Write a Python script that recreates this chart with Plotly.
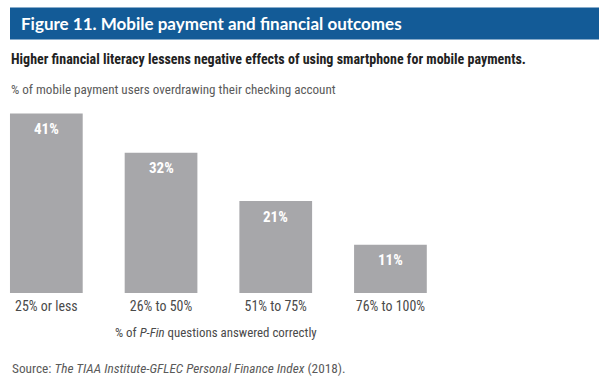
import plotly.graph_objects as go

categories = ["25% or less", "26% to 50%", "51% to 75%", "76% to 100%"]
values = [41, 32, 21, 11]
value_labels = ["41%", "32%", "21%", "11%"]

title_text = "Figure 11. Mobile payment and financial outcomes"
subtitle_text = "Higher financial literacy lessens negative effects of using smartphone for mobile payments."
ylabel_text = "% of mobile payment users overdrawing their checking account"
xlabel_text = "% of <i>P-Fin</i> questions answered correctly"
source_text = "Source: <i>The TIAA Institute-GFLEC Personal Finance Index</i> (2018)."

W, H = 607, 381
ML, MR, MT, MB = 0, 7, 100, 88
PW, PH = W - ML - MR, H - MT - MB

def px(x):
    return (x - ML) / PW

def py(y):
    return (H - MB - y) / PH

COND = "Liberation Sans Narrow, Roboto Condensed, Arial Narrow, Roboto, sans-serif"

fig = go.Figure()
fig.add_trace(go.Bar(
    x=list(range(len(categories))), y=values,
    marker=dict(color="#a7a7aa", line=dict(width=0)),
    width=0.634, hoverinfo="skip",
))

annotations = []
for i, (v, lab) in enumerate(zip(values, value_labels)):
    annotations.append(dict(x=i, y=v, xref="x", yref="y", text="<b>" + lab + "</b>",
                            showarrow=False, yanchor="middle", yshift=-15.5,
                            font=dict(family=COND, size=15, color="white")))

annotations += [
    dict(x=px(19), y=py(24), xref="paper", yref="paper", text="<b>" + title_text + "</b>",
         showarrow=False, xanchor="left", yanchor="middle",
         font=dict(family="Lato, sans-serif", size=17, color="white")),
    dict(x=px(9), y=py(59), xref="paper", yref="paper", text="<b>" + subtitle_text + "</b>",
         showarrow=False, xanchor="left", yanchor="middle",
         font=dict(family=COND, size=14, color="#222222")),
    dict(x=px(9), y=py(89), xref="paper", yref="paper", text=ylabel_text,
         showarrow=False, xanchor="left", yanchor="middle",
         font=dict(family=COND, size=13.1, color="#5a5a5a")),
    dict(x=px(216), y=py(332), xref="paper", yref="paper", text=xlabel_text,
         showarrow=False, xanchor="center", yanchor="middle",
         font=dict(family=COND, size=12.9, color="#4a4a4a")),
    dict(x=px(10), y=py(368), xref="paper", yref="paper", text=source_text,
         showarrow=False, xanchor="left", yanchor="middle",
         font=dict(family=COND, size=13.3, color="#5a5a5a")),
]

fig.update_layout(
    width=W, height=H,
    margin=dict(l=ML, r=MR, t=MT, b=MB, pad=0),
    paper_bgcolor="white", plot_bgcolor="white",
    showlegend=False,
    xaxis=dict(range=[-0.404, -0.404 + PW / 114.7], tickmode="array",
               tickvals=list(range(len(categories))), ticktext=categories,
               showgrid=False, zeroline=False, showline=False, ticks="",
               ticklabelstandoff=3,
               tickfont=dict(family=COND, size=13.9, color="#4a4a4a"), fixedrange=True),
    yaxis=dict(range=[0, PH / 4.38], visible=False, fixedrange=True),
    shapes=[dict(type="rect", xref="paper", yref="paper",
                 x0=px(10), x1=px(599), y0=py(39.5), y1=py(7.5),
                 fillcolor="#135b97", line=dict(width=0), layer="below")],
    annotations=annotations,
)

fig.write_html("out.html", config={"displayModeBar": False},
               post_script="document.body.style.margin='0';document.body.style.padding='0';")
